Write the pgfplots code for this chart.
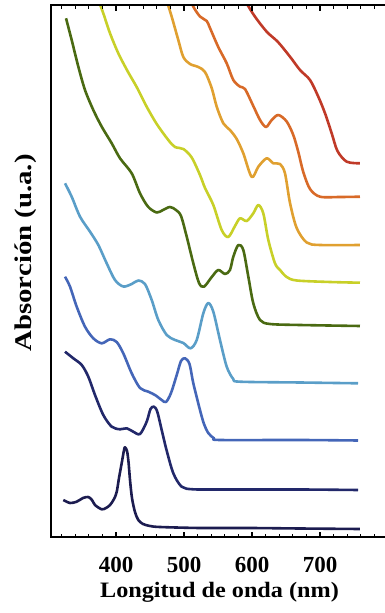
\documentclass[border=0pt]{standalone}
\usepackage{fontspec}
\setmainfont{Liberation Serif}
\usepackage{pgfplots}
\pgfplotsset{compat=1.18}
\definecolor{c1}{HTML}{1C1C50}
\definecolor{c2}{HTML}{22286A}
\definecolor{c3}{HTML}{4466B8}
\definecolor{c4}{HTML}{5A9EC8}
\definecolor{c5}{HTML}{4A6A12}
\definecolor{c6}{HTML}{C8D028}
\definecolor{c7}{HTML}{E0A030}
\definecolor{c8}{HTML}{D86A28}
\definecolor{c9}{HTML}{C03A28}
\begin{document}
\begin{tikzpicture}
\begin{axis}[
  scale only axis, width=337pt, height=532pt,
  xmin=304.4, xmax=800, ymin=0, ymax=532,
  axis on top,
  axis line style={line width=2.2pt},
  ytick=\empty,
  xtick={400,500,600,700},
  minor xtick={320,340,360,380,420,440,460,480,520,540,560,580,620,640,660,680,720,740,760,780},
  tick align=inside, tick pos=both,
  major tick length=5pt, minor tick length=3pt,
  tick style={line width=1.2pt, black},
  /pgf/number format/assume math mode=true,
  ticklabel style={font=\fontsize{23}{26}\selectfont\bfseries},
  xticklabel style={anchor=base, yshift=-35pt},
  xlabel={\scalebox{1.1}[1]{Longitud de onda (nm)}},
  ylabel={\scalebox{1.2}[1]{Absorción (u.a.)}},
  xlabel style={font=\fontsize{22}{25}\selectfont\bfseries, at={(rel axis cs:0.5,-0.1137)}, anchor=base},
  ylabel style={font=\fontsize{24}{27}\selectfont\bfseries, at={(rel axis cs:-0.0593,0.534)}, anchor=base},
  every axis plot/.append style={line width=2.6pt, smooth, tension=0.5, line join=round},
]
\coordinate (bl) at (rel axis cs:0,0);
\coordinate (tr) at (rel axis cs:1,1);
% 1
\addplot[c1] coordinates {(322.5,37)(332.4,34)(342.2,35.3)(351.5,39)(359.3,40)(364.7,37)(369.1,32)(379,27.7)(385.3,29)(391.2,32)(397.1,38)(401,45)(404.4,59)(408.4,74)(411.8,87)(413.2,89.7)(416.2,86)(418.4,75)(420.6,57)(423.5,39)(427.9,25)(432.8,17)(439.7,13)(450,11)(464.7,10)(523.5,9)(597,9)(670.6,8.5)(758.8,8)};
% 2
\addplot[c2] coordinates {(325,185.3)(337.2,178.7)(349.6,172)(359.3,160.3)(369.1,142)(381.3,122)(393.7,110.3)(405.9,107.7)(415.7,108.7)(425.4,105.3)(435.3,103)(445.1,115.3)(450.7,128)(455.9,130.3)(460.7,125.3)(467.2,107)(474.3,87)(484.3,63.7)(496.6,50.3)(513.2,47.7)(553,47.5)(670.6,47.5)(755.9,47)};
% 3
\addplot[c3] coordinates {(325,260.3)(332.4,250.3)(342.2,230.3)(354.4,210.3)(366.6,198.7)(379,193.7)(391.2,197.7)(401,195)(410.7,183.7)(423.1,163.7)(435.3,149)(447.5,145.3)(457.4,142)(467.2,137)(473.5,135)(480.9,144)(489.3,162)(495.6,176)(501.5,178.7)(508.1,173)(513.7,153.7)(523.5,127)(529.4,113)(535.7,104)(544.1,98.7)(553,97)(670.6,97)(755.9,96.5)};
% 4
\addplot[c4] coordinates {(325,353.7)(334.8,340.3)(347.1,320.3)(361.8,305.3)(374,292)(386.3,273.7)(398.5,257)(410.7,250.5)(423.1,253)(432.8,256.5)(442.6,253)(452.5,237)(462.2,217)(474.6,202)(486.8,197)(499,194)(509.6,188.7)(518.7,197)(528.4,223.7)(535.7,234)(543.1,225.3)(552.9,197)(562.8,170.3)(572.5,158)(582.4,155.3)(670.6,154.5)(755.9,153.7)};
% 5
\addplot[c5] coordinates {(326.5,518.7)(334.8,497)(344.6,470.3)(354.4,447)(366.6,427)(379,410.3)(393.7,393.7)(405.9,378.7)(423.1,363.7)(435.3,343.7)(447.1,330.3)(459.9,324.5)(469.1,327)(479.4,330)(488.2,327)(495.6,321)(504,300.3)(513.7,273.7)(522.1,254)(529.4,250.3)(540.8,260)(550.4,267)(560.3,263)(567.6,267)(572.5,280.3)(579.9,292)(587.2,287)(594.6,260.3)(601.9,233.7)(611.8,217)(626.5,213)(670.6,212)(758.8,211)};
% 6
\addplot[c6] coordinates {(372.8,539)(381.3,523.7)(391.2,503.7)(403.4,483.7)(416.9,466)(430.4,450)(445.1,430.3)(459.9,413)(476.9,397)(486.8,390)(499,388)(511.3,379.5)(523.5,362)(530.9,349)(543.1,332)(555.4,307)(565.1,300)(575,311)(582.4,318.7)(592.2,316)(601.9,323.7)(609.3,332)(616.6,323.7)(624,297)(633.8,273.7)(641.2,267)(651,260)(665.7,256.5)(714.7,255)(758.8,254.3)};
% 7
\addplot[c7] coordinates {(472.8,540)(481.9,520.3)(491.6,497)(499,480)(508.8,473)(521,470)(530.9,465)(540.7,449)(548.1,430.3)(557.8,413.7)(567.6,407)(577.5,398)(587.2,383.7)(599.6,360)(609.3,370.3)(621.6,378.7)(631.3,373.7)(641.2,373)(648.5,363.7)(655.9,334)(665.7,309)(680.4,294.5)(700,292)(758.8,292)};
% 8
\addplot[c8] coordinates {(508.8,539)(513.7,530.3)(523.5,520.5)(533.4,516)(538.2,509)(550.4,490)(562.8,473.7)(572.5,457)(582.4,450.3)(589.7,448)(601.9,431)(611.8,417)(620.6,410)(629,417)(638.7,422)(651,415.5)(660.7,402)(668.1,385)(675.4,365)(685.3,348)(700,340.3)(729.4,340)(758.8,340.3)};
% 9
\addplot[c9] coordinates {(591.2,538)(592.2,533.7)(604.4,520.3)(621.6,505.3)(638.2,495)(655.9,480.3)(670.6,467)(685.3,457)(697.5,440.3)(707.4,423.7)(717.2,403.7)(725.7,386)(739.3,375.3)(758.8,373.7)};
\end{axis}
\draw[line width=2.2pt, black, line cap=rect] (bl|-tr) -- (tr);
\foreach \x in {320,340,360,380,420,440,460,480,520,540,560,580,620,640,660,680,720,740,760,780}
  \draw[line width=1.2pt] ([xshift={(\x-304.4)*0.68pt}]bl|-tr) -- ++(0,-4pt);
\foreach \x in {400,500,600,700}
  \draw[line width=1.2pt] ([xshift={(\x-304.4)*0.68pt}]bl|-tr) -- ++(0,-6pt);
\pgfresetboundingbox
\path[use as bounding box] ([xshift=-51pt,yshift=-76pt]bl) rectangle ([xshift=-3pt,yshift=5pt]tr);
\end{tikzpicture}
\end{document}
